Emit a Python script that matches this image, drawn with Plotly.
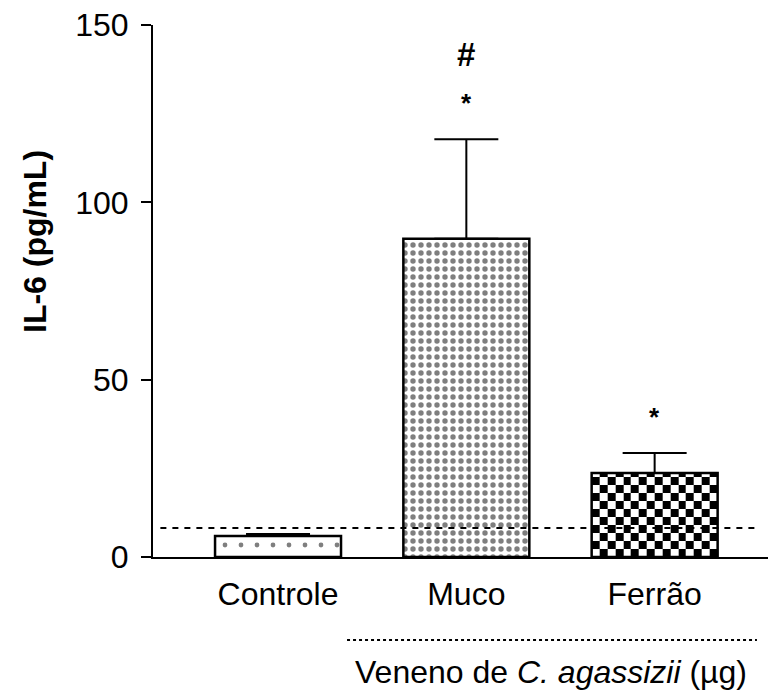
import numpy as np
import plotly.graph_objects as go

# IL-6 levels (mean and SEM) per group
categories = ["Controle", "Muco", "Ferrão"]
means = [5.9, 89.7, 23.7]
sems = [0.6, 28.1, 5.6]
detection_limit = 8.2
star_marks = ["", "*", "*"]
hash_marks = ["", "#", ""]
y_ticks = [0, 50, 100, 150]
y_title = "<b>IL-6 (pg/mL)</b>"
group_label = "Veneno de <i>C. agassizii</i> (µg)"

FONT = "Liberation Sans, Arial, sans-serif"
BAR_W = 0.669
xs = list(range(len(categories)))

# fill style per bar: dot pattern (shape, tile size, solidity) or checkerboard
fills = [
    dict(shape=".", size=16, solidity=0.07),
    dict(shape=".", size=8, solidity=0.36),
    None,
]

fig = go.Figure()

# Checkerboard fill for the Ferrão bar, sized from its mean
k = 2
n_cols = 16
cell_y = 2.26
x_edges = np.linspace(xs[k] - BAR_W / 2, xs[k] + BAR_W / 2, n_cols + 1)
n_rows = int(np.ceil(means[k] / cell_y))
y_edges = np.minimum(np.arange(n_rows + 1) * cell_y, means[k])
z = [[(r + c + n_rows) % 2 for c in range(n_cols)] for r in range(n_rows)]
fig.add_trace(go.Heatmap(
    x=x_edges, y=y_edges, z=z, zmin=0, zmax=1,
    colorscale=[[0, "black"], [1, "white"]],
    showscale=False, hoverinfo="skip", zsmooth=False,
))

# One bar trace per group so each gets its own fill
for i, x in enumerate(xs):
    f = fills[i]
    if f is None:
        marker = dict(color="rgba(0,0,0,0)",
                      line=dict(color="black", width=2.5))
    else:
        marker = dict(color="white",
                      line=dict(color="black", width=2.5),
                      pattern=dict(shape=f["shape"], size=f["size"],
                                   solidity=f["solidity"],
                                   fgcolor="black", fillmode="overlay"))
    fig.add_trace(go.Bar(
        x=[x], y=[means[i]], width=BAR_W, marker=marker,
        error_y=dict(type="data", symmetric=False, array=[sems[i]],
                     arrayminus=[0], color="black", thickness=2, width=32),
        hoverinfo="skip",
    ))

annotations = []
for i, x in enumerate(xs):
    top = means[i] + sems[i]
    if star_marks[i]:
        annotations.append(dict(
            x=x, y=top, xref="x", yref="y", yanchor="bottom", yshift=19,
            text="<b>" + star_marks[i] + "</b>", showarrow=False,
            font=dict(family=FONT, size=26, color="black"),
        ))
    if hash_marks[i]:
        annotations.append(dict(
            x=x, y=top, xref="x", yref="y", yanchor="bottom", yshift=64,
            text="<b>" + hash_marks[i] + "</b>", showarrow=False,
            font=dict(family=FONT, size=33, color="black"),
        ))

annotations.append(dict(
    x=0.647, y=-0.216, xref="paper", yref="paper",
    xanchor="center", yanchor="middle",
    text=group_label, showarrow=False,
    font=dict(family=FONT, size=32, color="black"),
))

# y-title position given in pixels, converted to paper coordinates
L, R, T, B, W, H = 153, 2, 25, 136, 770, 693
pw, ph = W - L - R, H - T - B
annotations.append(dict(
    x=(35 - L) / pw, y=(H - B - 242) / ph, xref="paper", yref="paper",
    xanchor="center", yanchor="middle",
    text=y_title, textangle=-90, showarrow=False,
    font=dict(family=FONT, size=32, color="black"),
))

shapes = [
    # detection limit
    dict(type="line", xref="paper", yref="y", x0=0.012, x1=0.978,
         y0=detection_limit, y1=detection_limit, layer="above",
         line=dict(color="black", width=2, dash="6px,6px")),
    # bracket under the venom groups
    dict(type="line", xref="paper", yref="paper", x0=0.3155, x1=0.982,
         y0=-0.156, y1=-0.156,
         line=dict(color="black", width=2, dash="dot")),
]

fig.update_layout(
    width=W, height=H,
    margin=dict(l=L, r=R, t=T, b=B),
    paper_bgcolor="white", plot_bgcolor="white",
    showlegend=False, barmode="overlay",
    font=dict(family=FONT, size=32, color="black"),
    annotations=annotations,
    shapes=shapes,
    xaxis=dict(
        range=[-0.664, 2.602], tickvals=xs, ticktext=categories,
        showline=True, linecolor="black", linewidth=2,
        ticks="", showgrid=False, zeroline=False,
        ticklabelstandoff=8,
        tickfont=dict(family=FONT, size=32, color="black"),
    ),
    yaxis=dict(
        range=[0, 150], tickvals=y_ticks,
        showline=True, linecolor="black", linewidth=2,
        ticks="outside", ticklen=10, tickwidth=2, tickcolor="black",
        showgrid=False, zeroline=False, ticklabelstandoff=6,
        tickfont=dict(family=FONT, size=32, color="black"),
    ),
)

fig.write_html("out.html")
